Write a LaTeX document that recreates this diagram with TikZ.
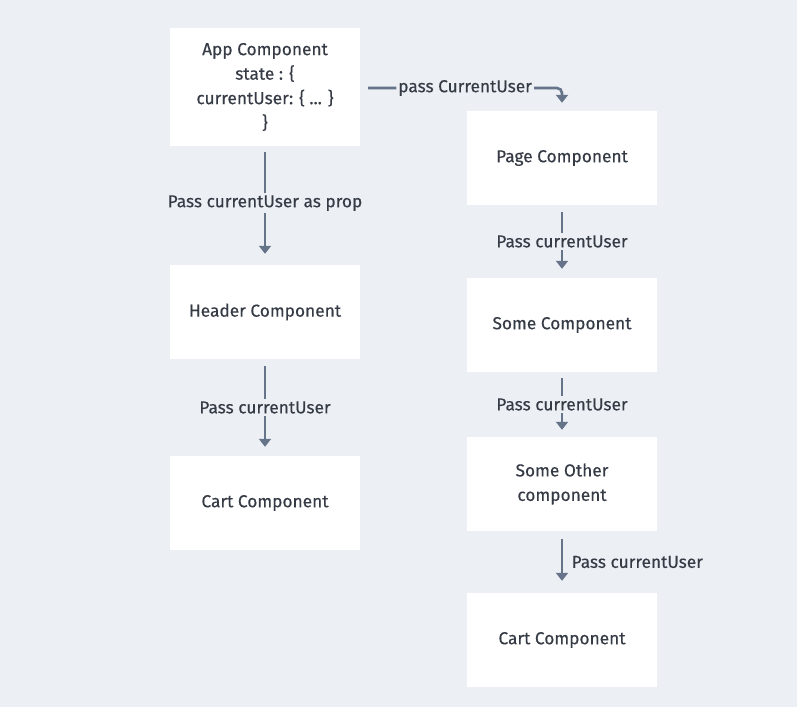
\documentclass[tikz,border=0pt]{standalone}
\usepackage{fontspec}
\setmainfont{Fira Sans}[FakeBold=0.35]
\usetikzlibrary{arrows.meta,calc}
\definecolor{bg}{HTML}{ECEFF4}
\definecolor{txt}{HTML}{353B45}
\definecolor{arr}{HTML}{66748A}
\begin{document}
\begin{tikzpicture}[x=1pt,y=-1pt,
  comp/.style={fill=white,draw=none,minimum width=190pt,minimum height=94pt,inner sep=0pt,
    text=txt,font=\fontsize{17.3}{24.5}\selectfont,align=center},
  lbl/.style={fill=bg,text=txt,font=\fontsize{17.3}{18}\selectfont,inner sep=2pt},
  conn/.style={draw=arr,line width=2.6pt,-{Triangle[width=12pt,length=8pt]}}
]
\fill[bg] (0,0) rectangle (797,707);
\useasboundingbox (0,0) rectangle (797,707);

\node[comp,minimum height=118pt] (app) at (265,87) {App Component\\state : \{\\currentUser: \{ ... \}\\\}};
\node[comp] (header) at (265,312) {Header Component};
\node[comp] (cartl) at (265,503) {Cart Component};
\node[comp] (page) at (562,158) {Page Component};
\node[comp] (some) at (562,325) {Some Component};
\node[comp] (other) at (562,484) {Some Other\\component};
\node[comp] (cartr) at (562,640) {Cart Component};

\draw[conn,shorten <=6pt,shorten >=11pt] (app.south) -- node[lbl,pos=0.48] {Pass currentUser as prop} (header.north);
\draw[conn,shorten <=7pt,shorten >=9pt] (header.south) -- node[lbl,pos=0.5] {Pass currentUser} (cartl.north);
\draw[conn,shorten <=7pt,shorten >=9pt] (page.south) -- node[lbl,pos=0.5] {Pass currentUser} (some.north);
\draw[conn,shorten <=6pt,shorten >=7pt] (some.south) -- node[lbl,pos=0.5] {Pass currentUser} (other.north);
\draw[conn,shorten <=8pt,shorten >=12pt] (other.south) -- node[text=txt,font=\fontsize{17.3}{18}\selectfont,right=5pt,anchor=west] {Pass currentUser} (cartr.north);

\coordinate (turn) at (page.north |- 0,88);
\draw[conn,rounded corners=5pt,shorten >=8pt] ($(app.east|-0,88)+(8,0)$) -- node[lbl,pos=0.5] {pass CurrentUser} (turn) -- (page.north);
\end{tikzpicture}
\end{document}
